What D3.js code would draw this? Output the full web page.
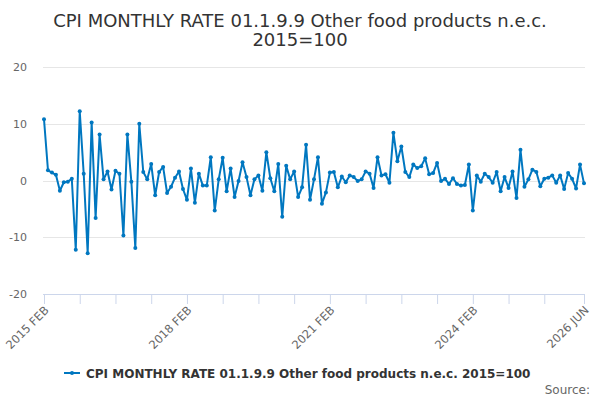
<!DOCTYPE html>
<html>
<head>
<meta charset="utf-8">
<script src="https://cdn.jsdelivr.net/npm/d3@7"></script>
<style>
  body { margin: 0; background: #fff; }
  svg { font-family: "DejaVu Sans", sans-serif; }
</style>
</head>
<body>
<svg id="chart" width="600" height="400"></svg>
<script>
// monthly rate, 2015 FEB .. 2026 JUN
var values = [
  10.8, 1.8, 1.4, 1.0, -1.8, -0.3, -0.2, 0.3, -12.2, 12.2,
  1.2, -12.8, 10.2, -6.6, 8.1, 0.2, 1.6, -1.6, 1.7, 1.2,
  -9.7, 8.1, -0.2, -11.9, 10.0, 1.5, 0.2, 2.9, -2.6, 1.5,
  2.4, -2.2, -1.1, 0.5, 1.6, -1.5, -3.4, 2.1, -3.9, 1.2,
  -0.9, -0.9, 4.1, -5.3, 0.2, 4.0, -1.9, 2.1, -2.9, -0.1,
  3.2, 0.6, -2.6, 0.2, 0.9, -1.8, 5.0, 0.4, -1.9, 2.9,
  -6.4, 2.6, 0.2, 1.6, -2.9, -1.2, 6.3, -3.4, 0.2, 4.1,
  -4.1, -2.1, 1.4, 1.5, -1.2, 0.7, -0.3, 0.9, 0.6, -0.1,
  0.2, 1.6, 1.2, -1.3, 4.1, 0.9, 1.1, -0.4, 8.4, 3.4,
  6.0, 1.5, 0.6, 2.8, 2.2, 2.5, 3.9, 1.1, 1.3, 3.1,
  -0.1, 0.3, -0.6, 0.4, -0.6, -0.9, -0.8, 2.8, -5.3, 0.9,
  -0.2, 1.2, 0.6, -0.4, 1.5, -1.9, 0.6, -1.3, 1.6, -3.1,
  5.4, -1.1, 0.2, 1.9, 1.5, -1.0, 0.3, 0.5, 0.9, -0.4,
  0.9, -1.5, 1.3, 0.3, -1.4, 2.8, -0.5
];
var monthNames = ["JAN","FEB","MAR","APR","MAY","JUN","JUL","AUG","SEP","OCT","NOV","DEC"];
var startYear = 2015, startMonth = 1; // FEB
var categories = values.map(function(v, i) {
  var m = startMonth + i;
  return (startYear + Math.floor(m / 12)) + " " + monthNames[m % 12];
});
var labelTicks = ["2015 FEB", "2018 FEB", "2021 FEB", "2024 FEB", "2026 JUN"];
var yTicks = [-20, -10, 0, 10, 20];
var seriesName = "CPI MONTHLY RATE 01.1.9.9 Other food products n.e.c. 2015=100";
var titleLines = ["CPI MONTHLY RATE 01.1.9.9 Other food products n.e.c.", "2015=100"];

var svg = d3.select("#chart");
var plotLeft = 44, plotRight = 584, plotTop = 67, plotBottom = 294;
var color = "#0077c0";

var x = d3.scalePoint()
    .domain(categories)
    .range([plotLeft, plotRight]);

var y = d3.scaleLinear()
    .domain([-20, 20])
    .range([plotBottom, plotTop]);

// title
svg.append("g").selectAll("text")
    .data(titleLines)
  .enter().append("text")
    .attr("x", 300)
    .attr("y", function(d, i) { return 27 + i * 19; })
    .attr("text-anchor", "middle")
    .style("font-size", "18px")
    .style("fill", "#333333")
    .text(function(d) { return d; });

// grid
svg.append("g").selectAll("line")
    .data(yTicks.filter(function(d) { return d !== -20; }))
  .enter().append("line")
    .attr("x1", plotLeft - 1).attr("x2", plotRight + 1)
    .attr("y1", function(d) { return Math.round(y(d)) + 0.5; })
    .attr("y2", function(d) { return Math.round(y(d)) + 0.5; })
    .style("stroke", "#e6e6e6");

// y labels
svg.append("g").selectAll("text")
    .data(yTicks)
  .enter().append("text")
    .attr("x", 27)
    .attr("y", function(d) { return y(d) + 4; })
    .attr("text-anchor", "end")
    .style("font-size", "11px")
    .style("fill", "#666666")
    .text(function(d) { return d; });

// x axis: tick every 9 months plus the last one
var tickCats = categories.filter(function(d, i) { return i % 9 === 0 && i < 130; });
tickCats.push(categories[categories.length - 1]);

var xAxis = d3.axisBottom(x)
    .tickValues(tickCats)
    .tickSize(10)
    .tickSizeOuter(0)
    .tickFormat(function(d) { return labelTicks.indexOf(d) >= 0 ? d : ""; });

var gx = svg.append("g")
    .attr("transform", "translate(0," + plotBottom + ")")
    .call(xAxis);
gx.select(".domain").style("stroke", "#ccd6eb").attr("d", "M" + (plotLeft - 1) + ",0.5H" + (plotRight + 1));
gx.selectAll(".tick line").style("stroke", "#ccd6eb");
gx.selectAll(".tick text")
    .attr("x", 0).attr("y", 0).attr("dy", null)
    .attr("transform", "translate(5,17) rotate(-45)")
    .style("text-anchor", "end")
    .style("font-size", "11.5px")
    .style("font-family", "DejaVu Sans, sans-serif")
    .style("fill", "#666666");

// series
var line = d3.line()
    .x(function(d, i) { return x(categories[i]); })
    .y(function(d) { return y(d); });

svg.append("path")
    .datum(values)
    .attr("d", line)
    .style("fill", "none")
    .style("stroke", color)
    .style("stroke-width", 2)
    .style("stroke-linejoin", "round");

svg.append("g").selectAll("circle")
    .data(values)
  .enter().append("circle")
    .attr("cx", function(d, i) { return x(categories[i]); })
    .attr("cy", function(d) { return y(d); })
    .attr("r", 2)
    .style("fill", color);

// legend
var lg = svg.append("g").attr("transform", "translate(64,373)");
lg.append("line").attr("x1", 0).attr("x2", 16).attr("y1", 0).attr("y2", 0)
    .style("stroke", color).style("stroke-width", 2);
lg.append("circle").attr("cx", 8).attr("cy", 0).attr("r", 2).style("fill", color);
lg.append("text")
    .attr("x", 22).attr("y", 4.5)
    .style("font-size", "12px")
    .style("font-weight", "bold")
    .style("fill", "#333333")
    .text(seriesName);

svg.append("text")
    .attr("x", 590).attr("y", 394)
    .attr("text-anchor", "end")
    .style("font-size", "12px")
    .style("fill", "#666666")
    .text("Source:");
</script>
</body>
</html>
